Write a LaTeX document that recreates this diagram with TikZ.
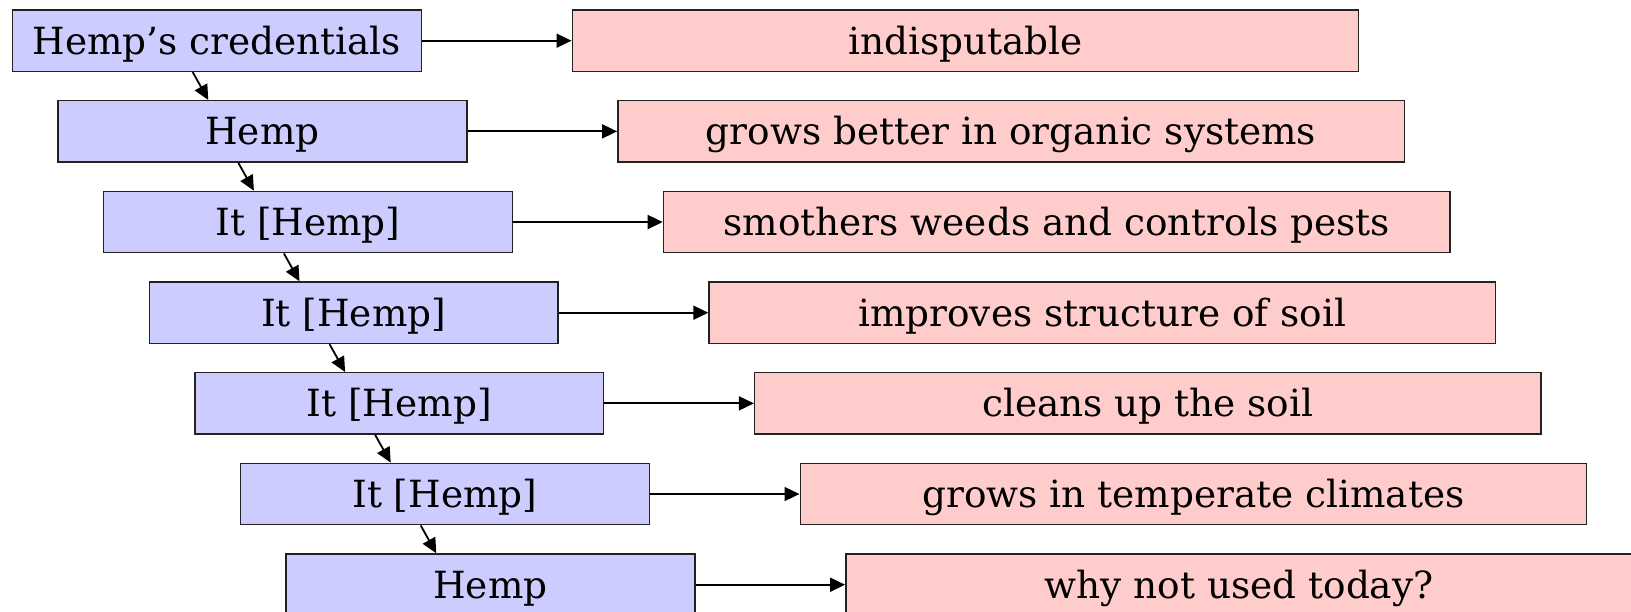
\documentclass[tikz,border=0pt]{standalone}
\usepackage{fontspec}
\setmainfont{DejaVu Serif}
\usetikzlibrary{arrows.meta,calc}
\definecolor{bluefill}{HTML}{CCCCFF}
\definecolor{pinkfill}{HTML}{FFCCCC}
\definecolor{edge}{HTML}{222222}
\tikzset{
  boxbase/.style={draw=edge, line width=1.4pt, rectangle, inner sep=0pt,
    minimum height=61.4pt, text height=27pt, text depth=0pt,
    font=\fontsize{37.4pt}{41pt}\selectfont, anchor=north west},
  bluebox/.style={boxbase, fill=bluefill, minimum width=408.8pt},
  pinkbox/.style={boxbase, fill=pinkfill, minimum width=786.5pt},
  conn/.style={line width=1.8pt, -{Triangle[length=15pt,width=14pt]}}
}
\begin{document}
\begin{tikzpicture}[x=1pt,y=1pt]
\useasboundingbox (0,0) rectangle (1631,-612);
\def\dx{45.6}
\def\dy{90.67}
\foreach \i/\lt/\rt in {0/{Hemp’s credentials}/{indisputable},
                        1/{Hemp}/{grows better in organic systems},
                        2/{It [Hemp]}/{smothers weeds and controls pests},
                        3/{It [Hemp]}/{improves structure of soil},
                        4/{It [Hemp]}/{cleans up the soil},
                        5/{It [Hemp]}/{grows in temperate climates},
                        6/{Hemp}/{why not used today?}}{
  \node[bluebox] (b\i) at ({11.7+\dx*\i},{-9.3-\dy*\i}) {\lt};
  \node[pinkbox] (p\i) at ({571.5+\dx*\i},{-9.3-\dy*\i}) {\rt};
  \draw[conn] (b\i.east) -- (p\i.west);
}
\foreach \i [evaluate=\i as \j using int(\i+1)] in {0,...,5}{
  \draw[conn] ($(b\i.south west)+(181,0)$) -- ($(b\j.north west)+(151,0)$);
}
\end{tikzpicture}
\end{document}
